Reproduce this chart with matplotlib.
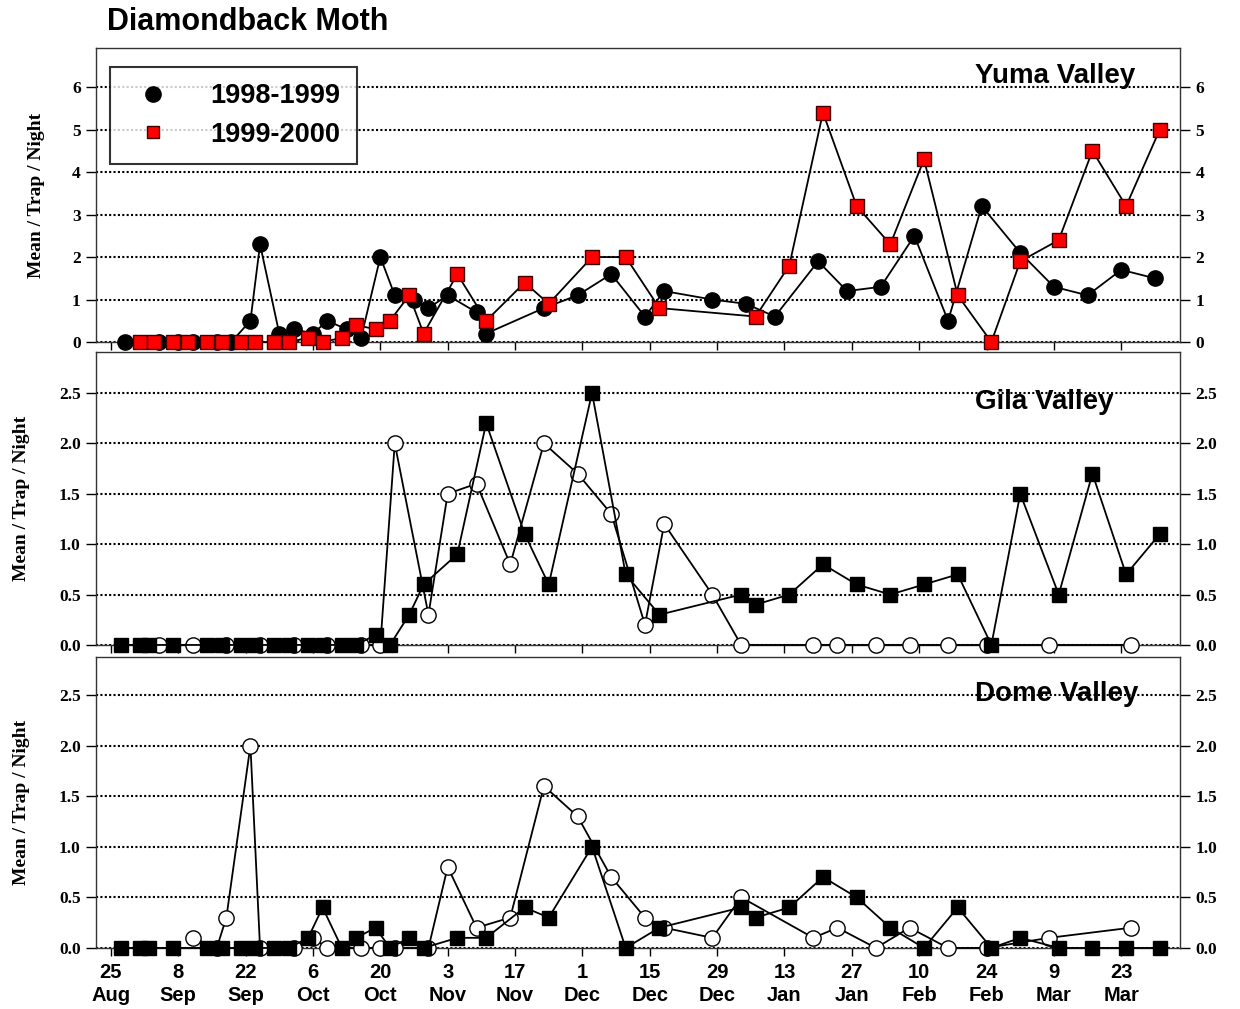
import matplotlib.pyplot as plt
from matplotlib.lines import Line2D
import numpy as np

SANS = 'Liberation Sans'
SERIF = 'Liberation Serif'

# x axis is days after 25 Aug
tick_days = list(range(0, 211, 14))
tick_labels = ['25\nAug', '8\nSep', '22\nSep', '6\nOct', '20\nOct', '3\nNov',
               '17\nNov', '1\nDec', '15\nDec', '29\nDec', '13\nJan', '27\nJan',
               '10\nFeb', '24\nFeb', '9\nMar', '23\nMar']

# Yuma Valley
yuma_9899_days = [3, 10, 14, 17, 22, 25, 29, 31, 35, 38, 42, 45, 49, 52, 56, 59,
                  63, 66, 70, 76, 78, 90, 97, 104, 111, 115, 125, 132, 138, 147,
                  153, 160, 167, 174, 181, 189, 196, 203, 210, 217]
yuma_9899 = [0, 0, 0, 0, 0, 0, 0.5, 2.3, 0.2, 0.3, 0.2, 0.5, 0.3, 0.1, 2.0, 1.1,
             1.0, 0.8, 1.1, 0.7, 0.2, 0.8, 1.1, 1.6, 0.6, 1.2, 1.0, 0.9, 0.6, 1.9,
             1.2, 1.3, 2.5, 0.5, 3.2, 2.1, 1.3, 1.1, 1.7, 1.5]
yuma_9900_days = [6, 9, 13, 16, 20, 23, 27, 30, 34, 37, 41, 44, 48, 51, 55, 58,
                  62, 65, 72, 78, 86, 91, 100, 107, 114, 134, 141, 148, 155, 162,
                  169, 176, 183, 189, 197, 204, 211, 218]
yuma_9900 = [0, 0, 0, 0, 0, 0, 0, 0, 0, 0, 0.1, 0, 0.1, 0.4, 0.3, 0.5,
             1.1, 0.2, 1.6, 0.5, 1.4, 0.9, 2.0, 2.0, 0.8, 0.6, 1.8, 5.4, 3.2, 2.3,
             4.3, 1.1, 0, 1.9, 2.4, 4.5, 3.2, 5.0]

# Gila Valley
gila_9899_days = [10, 17, 24, 31, 38, 45, 52, 56, 59, 66, 70, 76, 83, 90, 97, 104,
                  111, 115, 125, 131, 146, 151, 159, 166, 174, 182, 195, 212]
gila_9899 = [0, 0, 0, 0, 0, 0, 0, 0, 2.0, 0.3, 1.5, 1.6, 0.8, 2.0, 1.7, 1.3,
             0.2, 1.2, 0.5, 0, 0, 0, 0, 0, 0, 0, 0, 0]
gila_9900_days = [2, 6, 8, 13, 20, 23, 27, 30, 34, 37, 41, 44, 48, 51, 55, 58,
                  62, 65, 72, 78, 86, 91, 100, 107, 114, 131, 134, 141, 148, 155,
                  162, 169, 176, 183, 189, 197, 204, 211, 218]
gila_9900 = [0, 0, 0, 0, 0, 0, 0, 0, 0, 0, 0, 0, 0, 0, 0.1, 0,
             0.3, 0.6, 0.9, 2.2, 1.1, 0.6, 2.5, 0.7, 0.3, 0.5, 0.4, 0.5, 0.8, 0.6,
             0.5, 0.6, 0.7, 0, 1.5, 0.5, 1.7, 0.7, 1.1]

# Dome Valley
dome_9899_days = [17, 22, 24, 29, 31, 38, 42, 45, 52, 56, 59, 66, 70, 76, 83, 90,
                  97, 104, 111, 115, 125, 131, 146, 151, 159, 166, 174, 182, 195, 212]
dome_9899 = [0.1, 0, 0.3, 2.0, 0, 0, 0.1, 0, 0, 0, 0, 0, 0.8, 0.2, 0.3, 1.6,
             1.3, 0.7, 0.3, 0.2, 0.1, 0.5, 0.1, 0.2, 0, 0.2, 0, 0, 0.1, 0.2]
dome_9900_days = gila_9900_days
dome_9900 = [0, 0, 0, 0, 0, 0, 0, 0, 0, 0, 0.1, 0.4, 0, 0.1, 0.2, 0,
             0.1, 0, 0.1, 0.1, 0.4, 0.3, 1.0, 0, 0.2, 0.4, 0.3, 0.4, 0.7, 0.5,
             0.2, 0, 0.4, 0, 0.1, 0, 0, 0, 0]

XLIM = (-3.1, 222.2)


def style_panel(ax, yticks, ylabels, ylim, name, name_y, label_x, bottom=False):
    ax.set_xlim(*XLIM)
    ax.set_ylim(*ylim)
    ax.set_yticks(yticks)
    ax.set_yticklabels(ylabels, fontfamily=SERIF, fontweight='bold', fontsize=12.5)
    ax.tick_params(axis='y', direction='out', left=True, right=True,
                   labelleft=True, labelright=True, length=7, width=1, pad=4)
    ax.set_xticks(tick_days)
    if bottom:
        ax.set_xticklabels(tick_labels, fontfamily=SANS, fontweight='bold',
                           fontsize=14.5, linespacing=1.25)
    else:
        ax.set_xticklabels([])
    ax.tick_params(axis='x', direction='out', length=6, width=1, pad=5)
    for sp in ax.spines.values():
        sp.set_linewidth(1.0)
        sp.set_color('#333333')
    ax.set_axisbelow(True)
    ax.yaxis.grid(True, color='black', linestyle=(0, (1, 1.1)), linewidth=1.5)
    ax.set_ylabel('Mean / Trap / Night', fontfamily=SERIF, fontweight='bold',
                  fontsize=14)
    ax.yaxis.set_label_coords(label_x, 0.5)
    ax.text(179.6, name_y, name, fontfamily=SANS, fontweight='bold',
            fontsize=20, ha='left', va='baseline')


fig = plt.figure(figsize=(12.4, 10.09), dpi=100)
ax_yuma = fig.add_axes([0.0774, 0.6610, 0.8742, 0.2914])
ax_gila = fig.add_axes([0.0774, 0.3608, 0.8742, 0.2904])
ax_dome = fig.add_axes([0.0774, 0.0605, 0.8742, 0.2884])

line_kw = dict(color='black', linewidth=1.3, clip_on=False)

# Yuma: filled circles and red squares
ax_yuma.plot(yuma_9899_days, yuma_9899, marker='o', markersize=11,
             markerfacecolor='black', markeredgecolor='black', zorder=3, **line_kw)
ax_yuma.plot(yuma_9900_days, yuma_9900, marker='s', markersize=10,
             markerfacecolor='#ff0000', markeredgecolor='#400000',
             markeredgewidth=1, zorder=4, **line_kw)
style_panel(ax_yuma, range(0, 7), [str(v) for v in range(0, 7)], (0, 6.92),
            'Yuma Valley', 6.09, -0.047)

# Gila and Dome: open circles and black squares
for ax, d1, v1, d2, v2 in [(ax_gila, gila_9899_days, gila_9899, gila_9900_days, gila_9900),
                           (ax_dome, dome_9899_days, dome_9899, dome_9900_days, dome_9900)]:
    ax.plot(d1, v1, marker='o', markersize=11, markerfacecolor='white',
            markeredgecolor='black', markeredgewidth=1, zorder=3, **line_kw)
    ax.plot(d2, v2, marker='s', markersize=10, markerfacecolor='black',
            markeredgecolor='black', zorder=4, **line_kw)

gy = [0.0, 0.5, 1.0, 1.5, 2.0, 2.5]
style_panel(ax_gila, gy, [f'{v:.1f}' for v in gy], (0, 2.907),
            'Gila Valley', 2.34, -0.061)
style_panel(ax_dome, gy, [f'{v:.1f}' for v in gy], (0, 2.875),
            'Dome Valley', 2.44, -0.061, bottom=True)

# legend in Yuma panel
h1 = Line2D([0], [0], marker='o', linestyle='none', markersize=11,
            markerfacecolor='black', markeredgecolor='black', label='1998-1999')
h2 = Line2D([0], [0], marker='s', linestyle='none', markersize=9,
            markerfacecolor='#ff0000', markeredgecolor='#400000', label='1999-2000')
leg = ax_yuma.legend(handles=[h1, h2], loc='upper left', bbox_to_anchor=(0.013, 0.935),
                     borderaxespad=0, frameon=True, fancybox=False,
                     prop=dict(family=SANS, weight='bold', size=19.5),
                     handletextpad=1.1, borderpad=0.6, labelspacing=0.45,
                     handlelength=2.0)
leg.get_frame().set_edgecolor('black')
leg.get_frame().set_linewidth(1.5)
leg.set_zorder(10)

fig.text(0.0863, 0.9703, 'Diamondback Moth', fontfamily=SANS, fontweight='bold',
         fontsize=22, ha='left', va='baseline')

fig.savefig('out.png', dpi=100)
